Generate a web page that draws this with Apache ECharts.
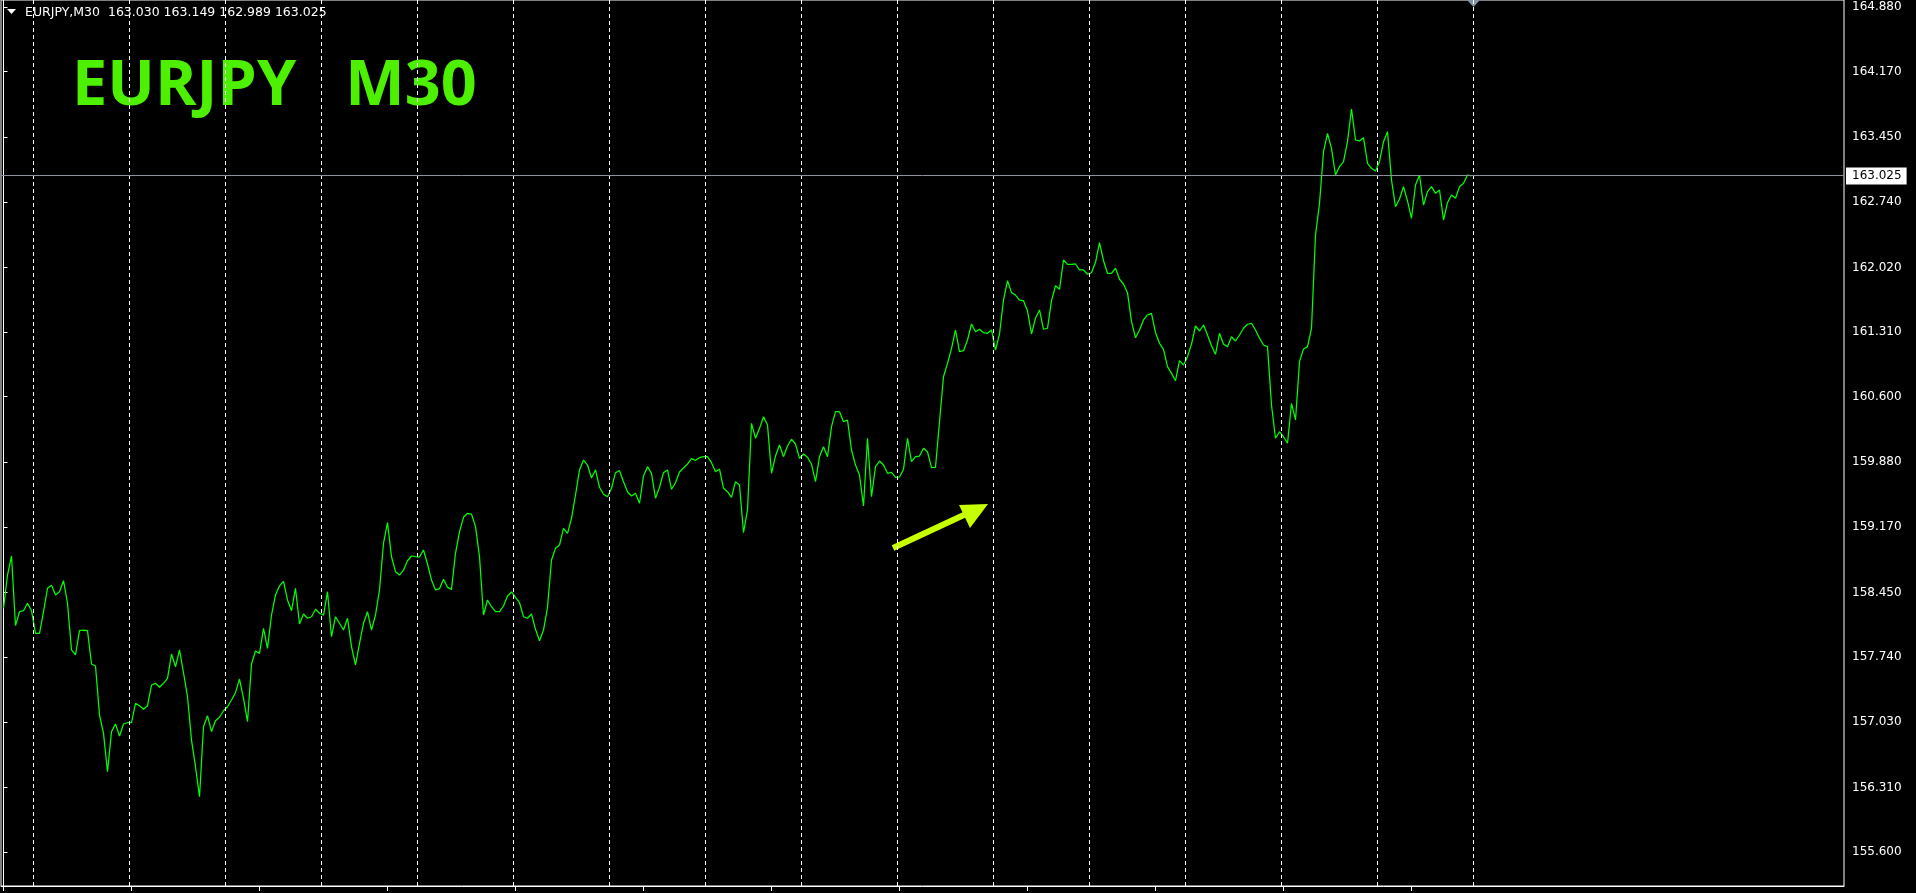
<!DOCTYPE html>
<html><head><meta charset="utf-8">
<script src="https://cdn.jsdelivr.net/npm/echarts@6/dist/echarts.min.js"></script>
<style>html,body{margin:0;padding:0;background:#000;overflow:hidden}#c{width:1916px;height:893px}</style>
</head><body><div id="c"></div>
<script>
// ---- data ----
const symbolName = 'EURJPY';
const timeframe = 'M30';
const headerOHLC = ['163.030', '163.149', '162.989', '163.025'];
// close prices, one sample every 2 bars (M30)
const closes = [
158.277,158.642,158.851,158.086,158.239,158.250,158.332,158.250,158.002,158.002,
158.239,158.496,158.529,158.423,158.459,158.580,158.332,157.819,157.764,158.031,
158.038,158.031,157.665,157.643,157.105,156.904,156.482,156.922,157.006,156.874,
157.006,157.020,157.020,157.233,157.207,157.168,157.207,157.434,157.453,157.409,
157.453,157.508,157.775,157.635,157.819,157.569,157.306,156.830,156.537,156.208,
156.976,157.097,156.922,157.042,157.080,157.152,157.196,157.270,157.350,157.500,
157.288,157.031,157.665,157.808,157.782,158.057,157.837,158.203,158.423,158.522,
158.573,158.368,158.250,158.496,158.104,158.214,158.167,158.184,158.266,158.222,
158.200,158.459,157.965,158.184,158.112,158.038,158.167,157.855,157.654,157.892,
158.112,158.239,158.038,158.203,158.478,158.991,159.217,158.843,158.679,158.642,
158.697,158.799,158.851,158.843,158.840,158.917,158.763,158.587,158.478,158.492,
158.595,158.507,158.485,158.881,159.118,159.276,159.320,159.312,159.173,158.843,
158.203,158.368,158.294,158.239,158.239,158.302,158.412,158.456,158.397,158.338,
158.184,158.167,158.214,158.046,157.921,158.038,158.288,158.807,158.936,158.972,
159.155,159.100,159.265,159.521,159.796,159.905,159.850,159.708,159.796,159.606,
159.529,159.502,159.595,159.766,159.788,159.667,159.557,159.510,159.540,159.430,
159.730,159.832,159.759,159.485,159.606,159.766,159.796,159.584,159.656,159.774,
159.817,159.861,159.920,159.902,159.931,159.942,159.942,159.876,159.777,159.806,
159.595,159.557,159.496,159.667,159.631,159.107,159.356,160.308,160.144,160.253,
160.381,160.290,159.759,159.949,160.070,159.942,160.059,160.133,160.081,159.924,
159.971,159.935,159.861,159.667,159.942,160.051,159.942,160.271,160.436,160.436,
160.326,160.345,160.015,159.850,159.741,159.400,160.144,159.502,159.832,159.894,
159.850,159.759,159.770,159.715,159.719,159.803,160.144,159.887,159.942,159.949,
160.034,159.996,159.821,159.825,160.326,160.820,160.967,161.128,161.333,161.095,
161.106,161.223,161.399,161.314,161.341,161.303,161.297,161.333,161.113,161.289,
161.662,161.874,161.743,161.717,161.662,161.655,161.542,161.289,161.461,161.553,
161.341,161.352,161.655,161.819,161.780,162.102,162.054,162.054,162.058,161.992,
161.992,161.945,161.962,162.076,162.292,162.094,161.956,161.956,162.011,161.890,
161.838,161.743,161.424,161.248,161.333,161.443,161.498,161.516,161.303,161.187,
161.121,160.930,160.857,160.776,160.996,160.949,161.040,161.179,161.377,161.322,
161.388,161.278,161.161,161.066,161.297,161.176,161.150,161.259,161.212,161.278,
161.352,161.396,161.407,161.333,161.242,161.168,161.150,160.509,160.144,160.216,
160.161,160.089,160.528,160.345,160.985,161.124,161.150,161.352,162.376,162.724,
163.291,163.493,163.328,163.035,163.126,163.181,163.401,163.760,163.420,163.409,
163.445,163.164,163.109,163.079,163.181,163.401,163.511,162.980,162.687,162.772,
162.907,162.750,162.560,162.925,163.035,162.706,162.852,162.907,162.834,162.870,
162.541,162.731,162.816,162.779,162.907,162.944,163.035,163.025
];
const yTickLabels = ['155.600','156.310','157.030','157.740','158.450','159.170','159.880',
  '160.600','161.310','162.020','162.740','163.450','164.170','164.880'];
// day separators and time ticks, in sample units
const daySeparators = [7.5,31.5,55.5,79.5,103.5,127.5,151.5,175.5,199.5,223.5,247.5,271.5,295.5,319.5,343.5,367.5];
const timeTicks = [0,32,64,96,128,160,192,224,256,288,320,352];

// ---- chart ----
const lastClose = closes[closes.length - 1];
const yTicks = yTickLabels.map(Number);
const yMin = 155.227, yMax = 164.957;
const chart = echarts.init(document.getElementById('c'), null, {renderer: 'canvas'});
const sepLines = daySeparators.map(v => ({
  xAxis: v, label: {show: false},
  lineStyle: {color: '#ffffff', width: 1, type: [4, 3], opacity: 1}
}));
const priceLine = {
  yAxis: lastClose, label: {show: false},
  lineStyle: {color: '#8d939e', width: 1, type: 'solid', opacity: 1}
};
chart.setOption({
  backgroundColor: '#000',
  animation: false,
  grid: {left: 1, right: 72, top: 0, bottom: 7, show: true, borderColor: '#ffffff', borderWidth: 1, backgroundColor: '#000'},
  xAxis: {
    type: 'value', min: -0.625, max: 460.125,
    axisLine: {show: true, lineStyle: {color: '#ffffff'}},
    axisTick: {show: true, customValues: timeTicks, length: 5, lineStyle: {color: '#ffffff'}},
    axisLabel: {show: false}, splitLine: {show: false}
  },
  yAxis: [{
    type: 'value', position: 'right', min: yMin, max: yMax, scale: true,
    axisLine: {show: true, lineStyle: {color: '#ffffff'}},
    axisTick: {show: true, customValues: yTicks, length: 4, lineStyle: {color: '#ffffff'}},
    axisLabel: {show: true, customValues: yTicks, formatter: v => Number(v).toFixed(3),
      color: '#ffffff', fontFamily: 'DejaVu Sans', fontSize: 12, margin: 8},
    splitLine: {show: false}
  }, {
    type: 'value', position: 'right', min: yMin, max: yMax, scale: true,
    axisLine: {show: false}, axisTick: {show: false}, splitLine: {show: false},
    axisLabel: {show: true, customValues: [lastClose], formatter: v => Number(v).toFixed(3),
      color: '#000', backgroundColor: '#ffffff', padding: [3, 5, 2, 6],
      fontFamily: 'DejaVu Sans', fontSize: 12, margin: 2}
  }],
  series: [{
    type: 'line', data: closes.map((v, i) => [i, v]),
    symbol: 'none', showSymbol: false, clip: false,
    lineStyle: {color: '#00ff00', width: 1.25},
    markLine: {silent: true, symbol: ['none', 'none'], animation: false,
      data: sepLines.concat([priceLine])}
  }],
  graphic: [
    {type: 'polygon', shape: {points: [[7, 9], [16, 9], [11.5, 14]]}, style: {fill: '#ffffff'}},
    {type: 'text', x: 25, y: 13, style: {text: symbolName + ',' + timeframe + '  ' + headerOHLC.join(' '),
      fill: '#ffffff', font: '12.5px "DejaVu Sans"', verticalAlign: 'middle'}},
    {type: 'text', x: 72, y: 87, style: {text: symbolName + '   ' + timeframe,
      fill: '#4cf000', font: 'bold 63px "Open Sans"', verticalAlign: 'middle'}},
    {type: 'polyline', shape: {points: [[893, 548], [966, 514]]}, style: {stroke: '#c8ff00', lineWidth: 6}},
    {type: 'polygon', shape: {points: [[959, 505], [988, 504], [970, 528]]}, style: {fill: '#c8ff00'}},
    {type: 'polygon', shape: {points: [[1467, 0], [1480, 0], [1473.5, 7]]}, style: {fill: '#8593a8'}}
  ]
});
</script>
</body></html>
